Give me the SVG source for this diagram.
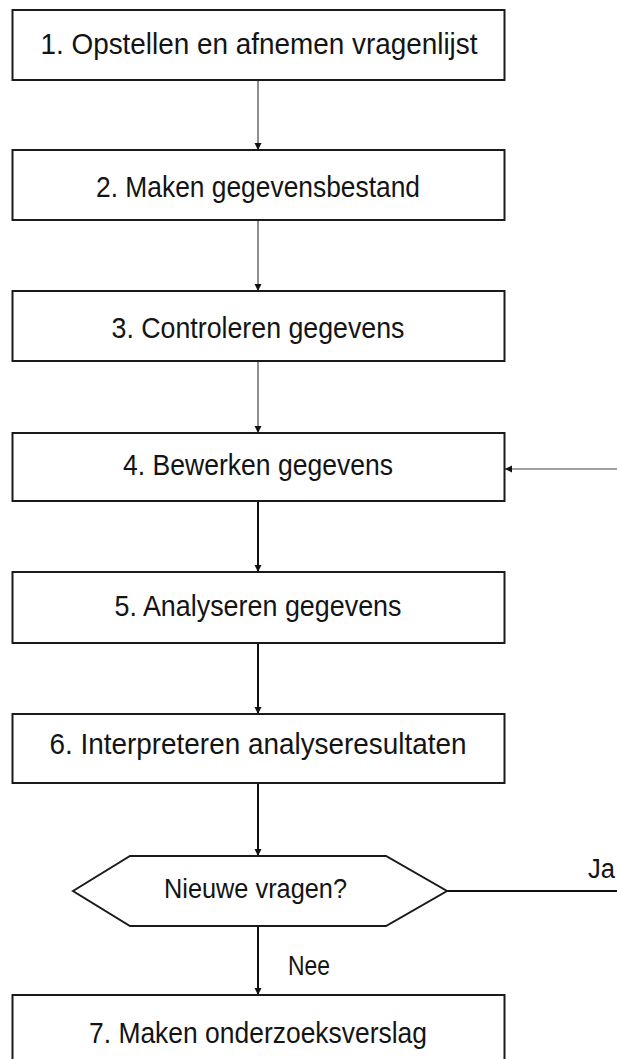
<svg xmlns="http://www.w3.org/2000/svg" width="617" height="1059" viewBox="0 0 617 1059">
<style>
  .box { fill: #ffffff; stroke: #1a1a1a; stroke-width: 2; }
  .lbl { font-family: "Liberation Sans", Arial, sans-serif; font-size: 30px; fill: #141414; text-anchor: middle; }
  .sm { font-family: "Liberation Sans", Arial, sans-serif; font-size: 27px; fill: #141414; }
  .thin { stroke: #444; stroke-width: 1.2; fill: none; }
  .thick { stroke: #111; stroke-width: 2; fill: none; }
</style>
<defs>
  <marker id="arr" viewBox="0 0 10 10" refX="10" refY="5" markerWidth="7" markerHeight="8" markerUnits="userSpaceOnUse" orient="auto">
    <path d="M0,0 L10,5 L0,10 z" fill="#111"/>
  </marker>
</defs>
<rect width="617" height="1059" fill="#ffffff"/>
<g id="connectors">
  <line class="thin" x1="258" y1="80" x2="258" y2="150" marker-end="url(#arr)"/>
  <line class="thin" x1="258" y1="220" x2="258" y2="291" marker-end="url(#arr)"/>
  <line class="thin" x1="258" y1="361" x2="258" y2="433" marker-end="url(#arr)"/>
  <line class="thick" x1="258" y1="501" x2="258" y2="572" marker-end="url(#arr)"/>
  <line class="thick" x1="258" y1="643" x2="258" y2="714" marker-end="url(#arr)"/>
  <line class="thick" x1="258" y1="783" x2="258" y2="856" marker-end="url(#arr)"/>
  <line class="thick" x1="258" y1="926" x2="258" y2="995" marker-end="url(#arr)"/>
  <line class="thick" x1="447" y1="891" x2="617" y2="891"/>
  <line class="thin" x1="617" y1="469" x2="505" y2="469" marker-end="url(#arr)"/>
  <text class="sm" x="588" y="878" textLength="27" lengthAdjust="spacingAndGlyphs">Ja</text>
  <text class="sm" x="288" y="975" textLength="42" lengthAdjust="spacingAndGlyphs">Nee</text>
</g>
<g id="n1">
  <rect class="box" x="12.5" y="10" width="492" height="70"/>
  <text class="lbl" x="259" y="54" textLength="437" lengthAdjust="spacingAndGlyphs">1. Opstellen en afnemen vragenlijst</text>
</g>
<g id="n2">
  <rect class="box" x="12.5" y="150" width="492" height="70"/>
  <text class="lbl" x="258" y="197" textLength="324" lengthAdjust="spacingAndGlyphs">2. Maken gegevensbestand</text>
</g>
<g id="n3">
  <rect class="box" x="12.5" y="291" width="492" height="70"/>
  <text class="lbl" x="258" y="338" textLength="293" lengthAdjust="spacingAndGlyphs">3. Controleren gegevens</text>
</g>
<g id="n4">
  <rect class="box" x="12.5" y="433" width="492" height="68"/>
  <text class="lbl" x="258" y="475" textLength="270" lengthAdjust="spacingAndGlyphs">4. Bewerken gegevens</text>
</g>
<g id="n5">
  <rect class="box" x="12.5" y="572" width="492" height="71"/>
  <text class="lbl" x="258" y="616" textLength="287" lengthAdjust="spacingAndGlyphs">5. Analyseren gegevens</text>
</g>
<g id="n6">
  <rect class="box" x="12.5" y="714" width="492" height="69"/>
  <text class="lbl" x="258" y="754" textLength="417" lengthAdjust="spacingAndGlyphs">6. Interpreteren analyseresultaten</text>
</g>
<g id="n_decision">
  <polygon class="box" points="73,891 130,856 386,856 447,891 386,926 130,926"/>
  <text class="lbl" x="255.5" y="898" style="font-size:27px" textLength="183" lengthAdjust="spacingAndGlyphs">Nieuwe vragen?</text>
</g>
<g id="n7">
  <rect class="box" x="12.5" y="995" width="492" height="80"/>
  <text class="lbl" x="258" y="1043" textLength="338" lengthAdjust="spacingAndGlyphs">7. Maken onderzoeksverslag</text>
</g>
</svg>
